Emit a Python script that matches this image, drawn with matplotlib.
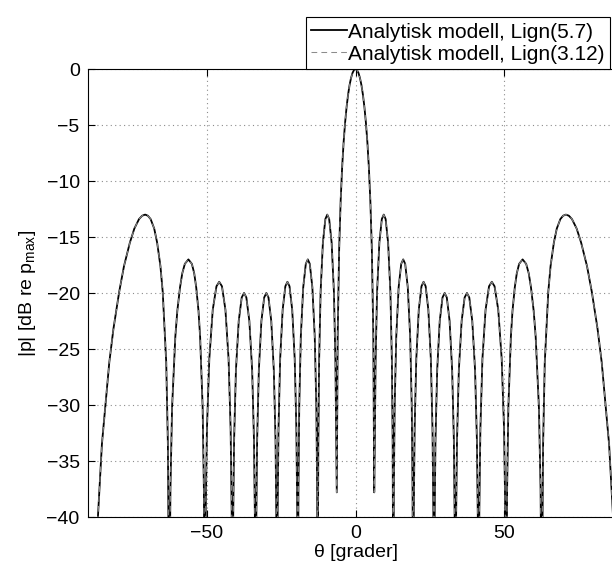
import matplotlib
matplotlib.use('Agg')
import matplotlib.pyplot as plt

# beam pattern, lobe by lobe (degrees / dB)
theta = [
    -90.0, -87.30, -85.32, -82.84, -81.44, -79.51, -77.89, -75.91, -74.41, -72.83, -71.78, -70.78, -69.85, -68.93,
    -67.72, -66.74, -65.63, -64.86, -63.68, -63.12, -62.85,
    -62.7, -62.55, -62.27, -61.71, -60.62, -59.95, -59.04, -58.29, -57.42, -56.22, -55.05, -54.26, -53.59, -52.82,
    -52.28, -51.43, -51.01, -50.80,
    -50.7, -50.59, -50.39, -49.99, -49.19, -48.03, -46.78, -45.86, -44.93, -43.76, -42.70, -42.01, -41.66, -41.49,
    -41.4, -41.32, -41.17, -40.85, -40.23, -39.29, -38.28, -37.5, -36.72, -35.71, -34.77, -34.15, -33.83, -33.68,
    -33.6, -33.53, -33.38, -33.10, -32.52, -31.66, -30.72, -30.0, -29.28, -28.34, -27.48, -26.90, -26.62, -26.47,
    -26.4, -26.33, -26.19, -25.91, -25.35, -24.51, -23.6, -22.9, -22.2, -21.29, -20.45, -19.89, -19.61, -19.47,
    -19.4, -19.33, -19.20, -18.93, -18.40, -17.59, -16.72, -16.05, -15.38, -14.51, -13.71, -13.17, -12.90, -12.77,
    -12.7, -12.64, -12.51, -12.25, -11.74, -10.97, -10.14, -9.5, -8.86, -8.03, -7.26, -6.75, -6.49,
    -6.3, -6.0, -5.5, -5.0, -4.5, -4.0, -3.5, -3.0, -2.5, -2.0, -1.5, -1.0, -0.5,
    0.0,
    0.5, 1.0, 1.5, 2.0, 2.5, 3.0, 3.5, 4.0, 4.5, 5.0, 5.5, 6.0, 6.3,
    6.49, 6.75, 7.26, 8.03, 8.86, 9.5, 10.14, 10.97, 11.74, 12.25, 12.51, 12.64, 12.7,
    12.77, 12.90, 13.17, 13.71, 14.51, 15.38, 16.05, 16.72, 17.59, 18.40, 18.93, 19.20, 19.33, 19.4,
    19.47, 19.61, 19.89, 20.45, 21.29, 22.2, 22.9, 23.6, 24.51, 25.35, 25.91, 26.19, 26.33, 26.4,
    26.47, 26.62, 26.90, 27.48, 28.34, 29.28, 30.0, 30.72, 31.66, 32.52, 33.10, 33.38, 33.53, 33.6,
    33.68, 33.83, 34.15, 34.77, 35.71, 36.72, 37.5, 38.28, 39.29, 40.23, 40.85, 41.17, 41.32, 41.4,
    41.49, 41.66, 42.01, 42.70, 43.76, 44.93, 45.86, 46.78, 48.03, 49.19, 49.99, 50.39, 50.59, 50.7,
    50.80, 51.01, 51.43, 52.28, 52.82, 53.59, 54.26, 55.05, 56.22, 57.42, 58.29, 59.04, 59.95, 60.62,
    61.71, 62.27, 62.55, 62.7,
    62.85, 63.12, 63.68, 64.86, 65.63, 66.74, 67.72, 68.93, 69.85, 70.78, 71.78, 72.83, 74.41, 75.91,
    77.89, 79.51, 81.44, 82.84, 85.32, 87.30, 90.0,
]

level_lign57 = [
    -60, -43.1, -33.5, -26.2, -23.2, -19.9, -17.6, -15.5, -14.25, -13.4, -13.1, -13.0, -13.1, -13.4,
    -14.25, -15.5, -17.6, -19.9, -26.2, -33.5, -43.1,
    -60, -47.1, -37.5, -30.2, -23.9, -21.6, -19.5, -18.25, -17.4, -17.0, -17.4, -18.25, -19.5, -21.6,
    -23.9, -30.2, -37.5, -47.1,
    -60, -49.1, -39.5, -32.2, -25.9, -21.5, -19.4, -19.0, -19.4, -21.5, -25.9, -32.2, -39.5, -49.1,
    -60, -50.1, -40.5, -33.2, -26.9, -22.5, -20.4, -20.0, -20.4, -22.5, -26.9, -33.2, -40.5, -50.1,
    -60, -50.1, -40.5, -33.2, -26.9, -22.5, -20.4, -20.0, -20.4, -22.5, -26.9, -33.2, -40.5, -50.1,
    -60, -49.1, -39.5, -32.2, -25.9, -21.5, -19.4, -19.0, -19.4, -21.5, -25.9, -32.2, -39.5, -49.1,
    -60, -47.1, -37.5, -30.2, -23.9, -19.5, -17.4, -17.0, -17.4, -19.5, -23.9, -30.2, -37.5, -47.1,
    -60, -43.1, -33.5, -26.2, -19.9, -15.5, -13.4, -13.0, -13.4, -15.5, -19.9, -26.2, -33.5,
    -37.8, -23.9, -16.1, -11.8, -8.8, -6.55, -4.79, -3.4, -2.3, -1.44, -0.8, -0.35, -0.09,
    0.0,
    -0.09, -0.35, -0.8, -1.44, -2.3, -3.4, -4.79, -6.55, -8.8, -11.8, -16.1, -23.9, -37.8,
    -33.5, -26.2, -19.9, -15.5, -13.4, -13.0, -13.4, -15.5, -19.9, -26.2, -33.5, -43.1, -60,
    -47.1, -37.5, -30.2, -23.9, -19.5, -17.4, -17.0, -17.4, -19.5, -23.9, -30.2, -37.5, -47.1, -60,
    -49.1, -39.5, -32.2, -25.9, -21.5, -19.4, -19.0, -19.4, -21.5, -25.9, -32.2, -39.5, -49.1, -60,
    -50.1, -40.5, -33.2, -26.9, -22.5, -20.4, -20.0, -20.4, -22.5, -26.9, -33.2, -40.5, -50.1, -60,
    -50.1, -40.5, -33.2, -26.9, -22.5, -20.4, -20.0, -20.4, -22.5, -26.9, -33.2, -40.5, -50.1, -60,
    -49.1, -39.5, -32.2, -25.9, -21.5, -19.4, -19.0, -19.4, -21.5, -25.9, -32.2, -39.5, -49.1, -60,
    -47.1, -37.5, -30.2, -23.9, -21.6, -19.5, -18.25, -17.4, -17.0, -17.4, -18.25, -19.5, -21.6, -23.9,
    -30.2, -37.5, -47.1, -60,
    -43.1, -33.5, -26.2, -19.9, -17.6, -15.5, -14.25, -13.4, -13.1, -13.0, -13.1, -13.4, -14.25, -15.5,
    -17.6, -19.9, -23.2, -26.2, -33.5, -43.1, -60,
]

# the two models lie on top of each other in the figure
level_lign312 = list(level_lign57)

labels = ['Analytisk modell, Lign(5.7)', 'Analytisk modell, Lign(3.12)']
xticks = [-50, 0, 50]
yticks = [-40, -35, -30, -25, -20, -15, -10, -5, 0]

plt.rcParams['font.family'] = ['Liberation Sans', 'DejaVu Sans']
plt.rcParams['mathtext.default'] = 'regular'
plt.rcParams['font.size'] = 14

fig = plt.figure(figsize=(6.12, 5.70), dpi=100)
# axes runs a bit past the right edge of the picture, like the original
ax = fig.add_axes([88 / 612, 53 / 570, 535 / 612, 448 / 570])

ax.plot(theta, level_lign57, color='black', lw=1.3, label=labels[0], zorder=3)
ax.plot(theta, level_lign312, color='0.55', lw=0.75, dashes=(5.5, 4.0),
        label=labels[1], zorder=4)

ax.set_xlim(-90, 90)
ax.set_ylim(-40, 0)
ax.set_xticks(xticks)
ax.set_yticks(yticks)
ax.grid(True, color='0.55', linestyle=(0, (1, 3)), lw=0.8)
ax.tick_params(direction='in', top=True, right=True, length=5, width=0.8,
               pad=6, labelsize=14)
for sp in ax.spines.values():
    sp.set_linewidth(0.8)

ax.set_xlabel('θ [grader]')
ax.xaxis.set_label_coords(0.5, -0.06)
ax.set_ylabel('|p| [dB re p$_{max}$]')
ax.yaxis.set_label_coords(-0.093, 0.5)

leg = ax.legend(loc='lower right', bbox_to_anchor=(610 / 612, 501 / 570),
                bbox_transform=fig.transFigure, fancybox=False,
                edgecolor='black', framealpha=1, borderaxespad=0,
                borderpad=0.25, labelspacing=0.15, handlelength=1.7,
                handletextpad=0.08, fontsize=15)
leg.get_frame().set_linewidth(0.8)

fig.savefig('out.png', dpi=100)
